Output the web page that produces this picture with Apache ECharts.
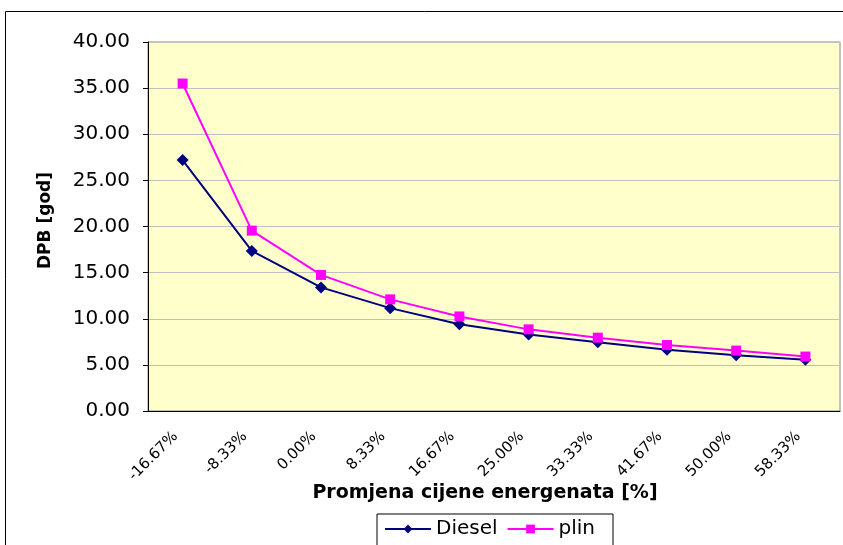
<!DOCTYPE html>
<html>
<head>
<meta charset="utf-8">
<script src="https://cdn.jsdelivr.net/npm/echarts@6/dist/echarts.min.js"></script>
<style>
  html, body { margin: 0; padding: 0; background: #fff; }
  #chart { width: 843px; height: 545px; }
</style>
</head>
<body>
<div id="chart"></div>
<script>
const categories = ["-16.67%", "-8.33%", "0.00%", "8.33%", "16.67%", "25.00%", "33.33%", "41.67%", "50.00%", "58.33%"]
const diesel = [27.2, 17.35, 13.4, 11.15, 9.4, 8.3, 7.45, 6.65, 6.05, 5.55]
const plin = [35.5, 19.55, 14.75, 12.1, 10.25, 8.85, 7.95, 7.15, 6.55, 5.9]

const font = "DejaVu Sans, Verdana, sans-serif"
const chart = echarts.init(document.getElementById("chart"))

chart.setOption({
  animation: false,
  graphic: [
    {
      // outer chart-area frame
      type: "rect",
      shape: {x: 5.5, y: 11.5, width: 900, height: 600},
      style: {fill: "none", stroke: "#000", lineWidth: 1},
      silent: true,
    },
  ],
  grid: {
    left: 148,
    right: 3,
    top: 42,
    bottom: 134,
    show: true,
    backgroundColor: "#FFFFCC",
    borderColor: "#888",
    borderWidth: 1,
  },
  legend: {
    left: 377,
    top: 514,
    width: 250,
    padding: [5, 18, 20, 7],
    borderColor: "#000",
    borderWidth: 1,
    itemWidth: 46,
    itemHeight: 11,
    itemGap: 9,
    textStyle: {fontFamily: font, fontSize: 20, color: "#000"},
    data: ["Diesel", "plin"],
  },
  xAxis: {
    type: "category",
    data: categories,
    name: "Promjena cijene energenata [%]",
    nameLocation: "middle",
    nameGap: 73,
    nameMoveOverlap: false,
    nameTextStyle: {fontFamily: font, fontSize: 19, fontWeight: "bold", color: "#000", padding: [0, 18, 0, 0]},
    axisLine: {lineStyle: {color: "#000", width: 1}},
    axisTick: {length: 5, lineStyle: {color: "#000"}},
    axisLabel: {rotate: 45, fontFamily: font, fontSize: 15, color: "#000", margin: 16, padding: [0, 10, 0, 0]},
  },
  yAxis: {
    type: "value",
    min: 0,
    max: 40,
    interval: 5,
    name: "DPB [god]",
    nameLocation: "middle",
    nameRotate: 90,
    nameGap: 94,
    nameMoveOverlap: false,
    nameTextStyle: {fontFamily: font, fontSize: 17, fontWeight: "bold", color: "#000", padding: [0, 0, 0, 12]},
    axisLine: {show: true, lineStyle: {color: "#000", width: 1}},
    axisTick: {show: true, length: 5, lineStyle: {color: "#000"}},
    axisLabel: {fontFamily: font, fontSize: 20, color: "#000", margin: 18, formatter: v => v.toFixed(2)},
    splitLine: {lineStyle: {color: "#c0c0c0", width: 1}},
  },
  series: [
    {
      name: "Diesel",
      type: "line",
      data: diesel,
      symbol: "diamond",
      symbolSize: 12,
      itemStyle: {color: "#000080"},
      lineStyle: {color: "#000080", width: 2},
    },
    {
      name: "plin",
      type: "line",
      data: plin,
      symbol: "rect",
      symbolSize: 10,
      itemStyle: {color: "#FF00FF"},
      lineStyle: {color: "#FF00FF", width: 2},
    },
  ],
})
</script>
</body>
</html>
